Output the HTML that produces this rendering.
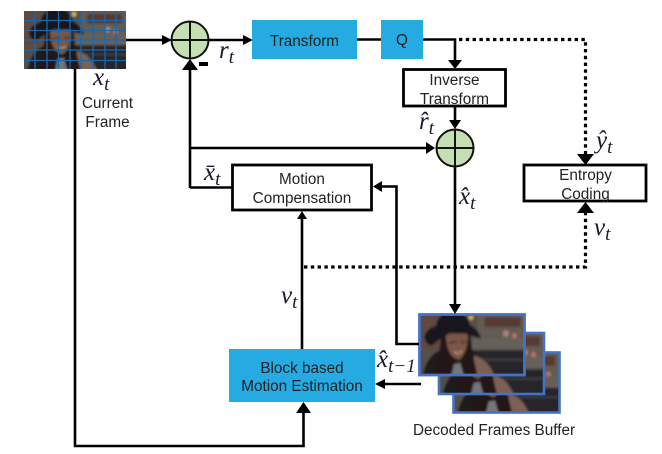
<!DOCTYPE html>
<html><head><meta charset="utf-8">
<style>
html,body{margin:0;padding:0;background:#fff;width:662px;height:454px;overflow:hidden}
svg{display:block}
.s{font-family:"Liberation Sans",sans-serif;font-size:15.3px;fill:#222;text-anchor:middle}
.m{font-family:"Liberation Serif",serif;font-style:italic;font-size:25px;fill:#1a1a2a}
.sub{font-size:19px}
.l{stroke:#000;stroke-width:2.6;fill:none}
.d{stroke:#000;stroke-width:3.2;fill:none;stroke-dasharray:3.4 3.4}
.b{stroke:#000;stroke-width:2.8;fill:#fff}
.a{fill:#000}
</style></head><body>
<svg width="662" height="454" viewBox="0 0 662 454" xmlns="http://www.w3.org/2000/svg">
<defs>
<filter id="bl" x="-5%" y="-5%" width="110%" height="110%"><feGaussianBlur stdDeviation="1.1"/></filter>
<filter id="tx" x="-5%" y="-5%" width="110%" height="110%"><feGaussianBlur stdDeviation="0.3"/></filter>
<g id="photo">
<rect x="-3" y="-3" width="106" height="62" fill="#565049"/>
<rect x="-3" y="-3" width="26" height="36" fill="#604a3f"/>
<rect x="55" y="-3" width="48" height="26" fill="#625c53"/>
<rect x="62" y="3" width="34" height="9" fill="#553b32"/>
<circle cx="49" cy="3" r="2.500" fill="#c9b04a"/>
<circle cx="82" cy="18" r="3" fill="#a8827c"/>
<circle cx="90" cy="20" r="2.500" fill="#b8726a"/>
<rect x="50" y="22" width="53" height="12" fill="#66605a"/>
<rect x="45" y="33" width="58" height="26" fill="#26262b"/>
<rect x="58" y="41" width="45" height="2" fill="#3c3c42"/>
<path d="M3 59 Q6 40 18 34 L52 34 Q62 42 70 59Z" fill="#1f1a1a"/>
<path d="M52 38 Q66 42 72 59 L50 59Z" fill="#7d6152"/>
<path d="M14 59 Q20 36 21 16 L48 16 Q50 38 56 59Z" fill="#241915"/>
<path d="M30 59 L33 46 L39 45 L43 59Z" fill="#74767a"/>
<path d="M25 18 L46 18 Q47 34 38 42 Q28 40 26 26Z" fill="#7c5646"/>
<path d="M28 27 Q33 25 36 26M39 26 Q42 25 45 26" stroke="#2a1b16" stroke-width="1.1" fill="none"/>
<path d="M33 35 Q37 37 41 34" stroke="#b89a92" stroke-width="1.2" fill="none"/>
<path d="M5 21 Q7 13 16 11 Q18 -2 32 -2 Q46 -2 48 10 Q56 14 59 23 Q50 20 46 19 Q34 14 25 20 Q18 24 12 29 Q6 28 5 21Z" fill="#17181f"/>
</g>
</defs>

<!-- current frame -->
<svg x="24" y="11" width="102" height="58" viewBox="0 0 100 56" preserveAspectRatio="none"><use href="#photo" filter="url(#bl)"/></svg>
<g stroke="#1668b0" stroke-width="1.3" fill="none">
<path d="M24.500 20.500H126M24.500 30.500H126M24.500 40H126M24.500 50H126M24.500 60.500H126"/>
<path d="M35 11V69M47 11V69M58.500 11V69M70 11V69M81 11V69M93 11V69M105 11V69M116 11V69"/>
</g>

<!-- decoded frames -->
<svg x="454" y="353" width="105" height="59" viewBox="0 0 100 56" preserveAspectRatio="none"><use href="#photo" filter="url(#bl)"/></svg>
<rect x="453.500" y="352.500" width="106" height="60" fill="none" stroke="#4472c4" stroke-width="2.6"/>
<svg x="439" y="333" width="105" height="61" viewBox="0 0 100 56" preserveAspectRatio="none"><use href="#photo" filter="url(#bl)"/></svg>
<rect x="439" y="333" width="105" height="61" fill="none" stroke="#4472c4" stroke-width="2.6"/>
<svg x="419" y="314" width="106" height="61" viewBox="0 0 100 56" preserveAspectRatio="none"><use href="#photo" filter="url(#bl)"/></svg>
<rect x="419.500" y="314.500" width="105" height="60.500" fill="none" stroke="#4472c4" stroke-width="2.8"/>

<!-- connectors -->
<path class="l" d="M126 40H164"/><path class="a" d="M172 40L162 35V45Z"/>
<path class="l" d="M208 40H246"/><path class="a" d="M253 40L243 35V45Z"/>
<path class="l" d="M357 39.500H381"/>
<path class="l" d="M423 39.500H455V62"/><path class="a" d="M455 69L448 60H462Z"/>
<path class="d" d="M459 39.500H585.500V155"/><path class="a" d="M585.500 165L577 154H594Z"/>
<path class="l" d="M455 106V121"/><path class="a" d="M455 129L449 120H461Z"/>
<path class="l" d="M75 69V446H303.500V410"/><path class="a" d="M303.500 402L296 413H311Z"/>
<path class="l" d="M190 188V66"/><path class="a" d="M190 59L182 70H198Z"/>
<path class="l" d="M190 148H429"/><path class="a" d="M435 148L426 142V154Z"/>
<path class="l" d="M190 187.500H232"/>
<path class="l" d="M302 349V216"/><path class="a" d="M302 211L297 219H307Z"/>
<path class="l" d="M455 166V308"/><path class="a" d="M455 314L449 304H461Z"/>
<path class="l" d="M419 344H396.500V186.500H380"/><path class="a" d="M373 186.500L382 181V192Z"/>
<path class="l" d="M421 384H382"/><path class="a" d="M375 384L385 379V389Z"/>
<path class="d" d="M304 267H585.500V213"/><path class="a" d="M585.500 202L577 213H594Z"/>

<!-- circles -->
<g stroke="#111" stroke-width="2" fill="#c5dfb4">
<circle cx="190" cy="40" r="18.500"/>
<path d="M190 21.500V58.500M171.500 40H208.500" fill="none"/>
<circle cx="455" cy="148" r="18.500"/>
<path d="M455 129.500V166.500M436.500 148H473.500" fill="none"/>
</g>
<rect x="199" y="62" width="9" height="4" fill="#000"/>

<!-- boxes -->
<rect x="252" y="20" width="105" height="39" fill="#25aae2"/>
<rect x="381" y="20" width="42" height="39" fill="#25aae2"/>
<rect x="229" y="349" width="146" height="53" fill="#25aae2"/>
<rect class="b" x="403.500" y="69.500" width="102" height="36.500"/>
<rect class="b" x="232.500" y="165" width="139" height="45"/>
<rect class="b" x="524" y="165" width="122" height="36"/>

<!-- labels -->
<g filter="url(#tx)">
<text class="s" x="304.500" y="46">Transform</text>
<text class="s" x="402" y="45">Q</text>
<text class="s" x="454.500" y="85">Inverse</text>
<text class="s" x="454.500" y="104">Transform</text>
<text class="s" x="302" y="184">Motion</text>
<text class="s" x="302" y="203">Compensation</text>
<text class="s" x="585.500" y="180">Entropy</text>
<text class="s" x="585.500" y="199">Coding</text>
<text class="s" x="302" y="373">Block based</text>
<text class="s" x="302" y="391">Motion Estimation</text>
<text class="s" x="107.500" y="108">Current</text>
<text class="s" x="107.500" y="127">Frame</text>
<text class="s" x="494" y="435">Decoded Frames Buffer</text>
</g>
<text class="m" x="93" y="85">x<tspan class="sub" dy="5">t</tspan></text>
<text class="m" x="219" y="58">r<tspan class="sub" dy="5">t</tspan></text>
<text class="m" x="204" y="180">x̄<tspan class="sub" dy="5">t</tspan></text>
<text class="m" x="419" y="129">r̂<tspan class="sub" dy="5">t</tspan></text>
<text class="m" x="459" y="204">x̂<tspan class="sub" dy="5">t</tspan></text>
<text class="m" x="596" y="148">ŷ<tspan class="sub" dy="5">t</tspan></text>
<text class="m" x="594" y="235">v<tspan class="sub" dy="5">t</tspan></text>
<text class="m" x="281" y="303">v<tspan class="sub" dy="5">t</tspan></text>
<text class="m" x="377" y="367">x̂<tspan class="sub" dy="5">t−1</tspan></text>
</svg>
</body></html>
